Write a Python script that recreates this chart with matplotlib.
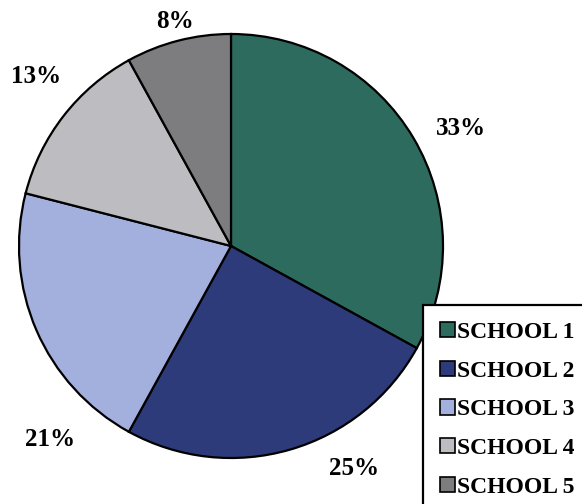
import numpy as np
import matplotlib.pyplot as plt
from matplotlib.patches import Patch

schools = ["SCHOOL 1", "SCHOOL 2", "SCHOOL 3", "SCHOOL 4", "SCHOOL 5"]
shares = [33, 25, 21, 13, 8]
colors = ["#2e6b5f", "#2d3b7b", "#a3afdd", "#bdbdc1", "#7d7d7f"]

# percentage label placement: (distance from centre in radii, angle in degrees)
label_pos = [(1.22, 27), (1.20, -61), (1.25, -133), (1.22, 139), (1.09, 104)]

plt.rcParams['font.family'] = ['Liberation Serif', 'DejaVu Serif']

fig = plt.figure(figsize=(5.82, 5.04), dpi=100)
ax = fig.add_axes([0, 0, 1, 1])

wedges, _ = ax.pie(shares, colors=colors, startangle=90, counterclock=False,
                   radius=1.0, wedgeprops=dict(edgecolor="black", linewidth=1.6))

for v, (r, a) in zip(shares, label_pos):
    t = np.deg2rad(a)
    ax.text(r * np.cos(t), r * np.sin(t), f"{v}%", ha="center", va="center",
            fontsize=18, fontweight="bold")

# 212 px per unit radius, centre at (231, 246) px from the top-left
px = 212.0
ax.set_xlim(-231 / px, (582 - 231) / px)
ax.set_ylim(-(504 - 246) / px, 246 / px)
ax.set_aspect("auto")
ax.axis("off")

handles = [Patch(facecolor=c, edgecolor="black", linewidth=1.2) for c in colors]
leg = fig.legend(handles, schools, loc="upper left",
                 bbox_to_anchor=(423 / 582, 1 - 305 / 504),
                 frameon=True, fancybox=False, edgecolor="black",
                 prop=dict(size=17, weight="bold"),
                 handlelength=0.62, handleheight=0.62, handletextpad=0.12,
                 labelspacing=0.75, borderpad=0.72, borderaxespad=0)
leg.get_frame().set_linewidth(1.6)
leg.get_frame().set_facecolor("white")
leg.get_frame().set_alpha(None)

fig.savefig("out.png", dpi=100)
